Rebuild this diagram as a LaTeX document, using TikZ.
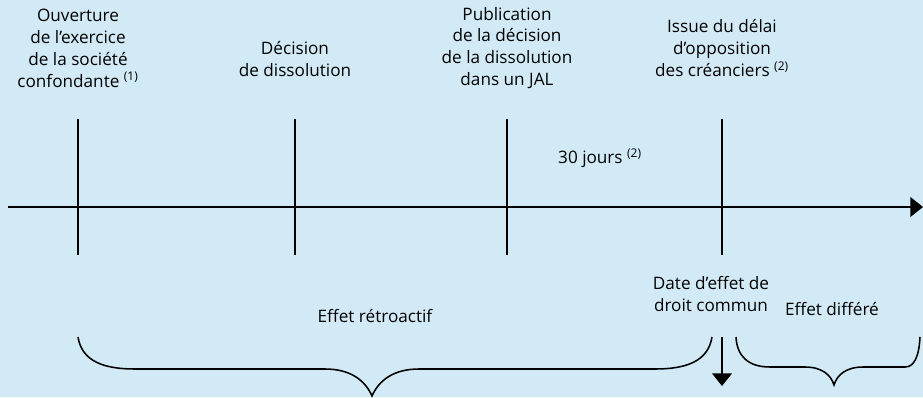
\documentclass[tikz,border=0pt]{standalone}
\usepackage{fontspec}
\setmainfont{Open Sans}
\usetikzlibrary{arrows.meta}
\definecolor{fondbleu}{RGB}{210,234,246}
\tikzset{
  lbl/.style={align=center,inner sep=0pt,font=\fontsize{12.2}{15.6}\selectfont},
  trait/.style={line width=1.3pt},
  accol/.style={line width=1.1pt}
}
\begin{document}
\begin{tikzpicture}[x=0.025cm,y=-0.025cm]
  \fill[fondbleu] (0,0) rectangle (923,397);
  \useasboundingbox (0,0) rectangle (923,397);
  % axe du temps
  \coordinate (debut) at (8,207);
  \coordinate (fin) at (923,207);
  \draw[trait,-{Triangle[length=9pt,width=14pt]}] (debut) -- (fin);
  % dates
  \coordinate (A1) at (78,119);  \coordinate (A2) at (78,255);
  \coordinate (B1) at (295,119); \coordinate (B2) at (295,255);
  \coordinate (C1) at (507,119); \coordinate (C2) at (507,255);
  \coordinate (D1) at (722,119); \coordinate (D2) at (722,255);
  \draw[trait] (A1) -- (A2);
  \draw[trait] (B1) -- (B2);
  \draw[trait] (C1) -- (C2);
  \draw[trait] (D1) -- (D2);
  \node[lbl] (ouv) at (78,48) {Ouverture\\de l’exercice\\de la société\\confondante \textsuperscript{(1)}};
  \node[lbl] (dec) at (295,59) {Décision\\de dissolution};
  \node[lbl] (pub) at (507,48) {Publication\\de la décision\\de la dissolution\\dans un JAL};
  \node[lbl] (iss) at (722,48) {Issue du délai\\d’opposition\\des créanciers \textsuperscript{(2)}};
  \node[lbl] (jours) at (600,158) {30 jours \textsuperscript{(2)}};
  \node[lbl] (dte) at (711,294) {Date d’effet de\\droit commun};
  \node[lbl] (retro) at (375,316) {Effet rétroactif};
  \node[lbl] (diff) at (832,309) {Effet différé};
  % date d'effet
  \coordinate (E1) at (722,337);
  \coordinate (E2) at (722,386);
  \draw[trait,-{Triangle[length=9pt,width=14pt]}] (E1) -- (E2);
  % accolades
  \draw[accol] (78,337) .. controls (82,362) and (105,369) .. (135,369)
    -- (325,369) .. controls (350,369) and (365,380) .. (372,396)
    .. controls (379,380) and (394,369) .. (419,369)
    -- (655,369) .. controls (685,369) and (708,362) .. (712,337);
  \draw[accol] (736,337) .. controls (737,356) and (748,367) .. (770,367)
    -- (805,367) .. controls (822,367) and (831,375) .. (834,385)
    .. controls (837,375) and (846,367) .. (863,367)
    -- (905,367) .. controls (914,367) and (919,357) .. (920,337);
\end{tikzpicture}
\end{document}
